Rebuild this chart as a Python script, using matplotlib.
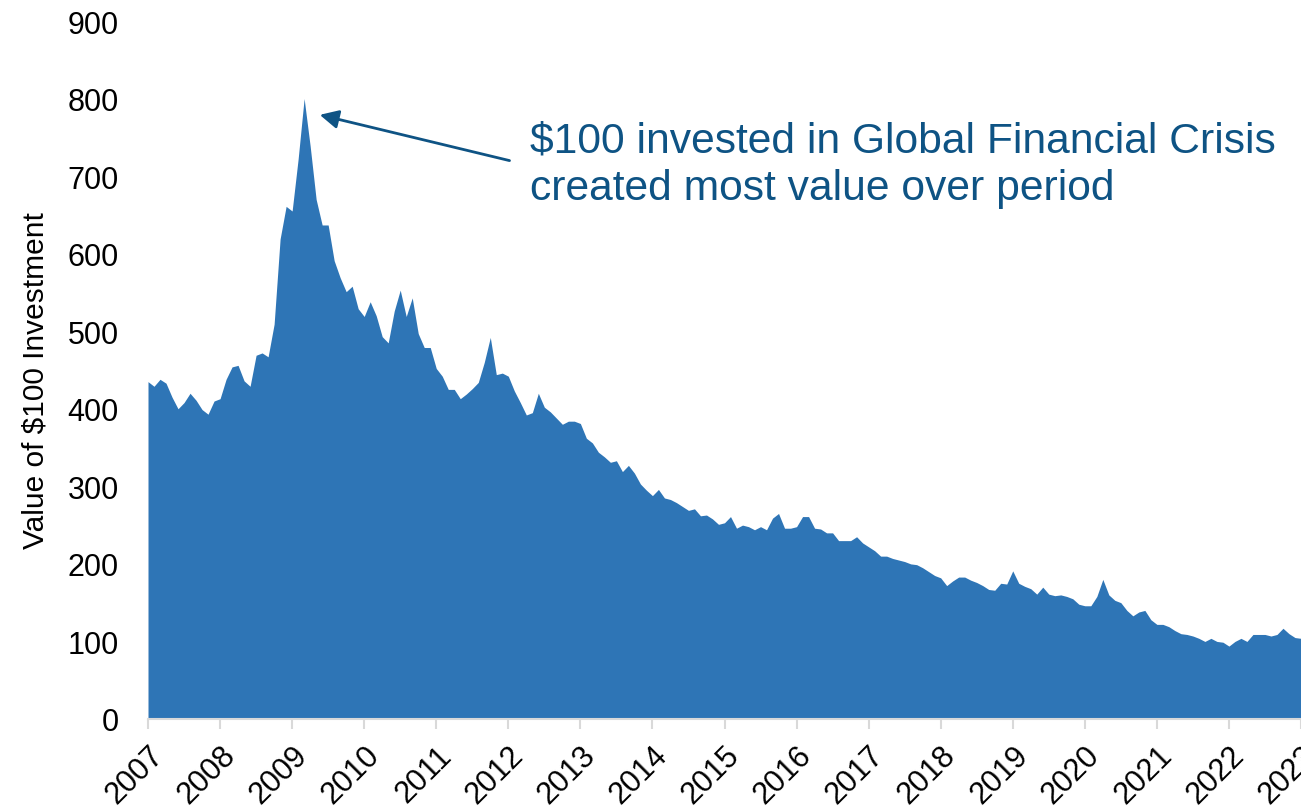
import matplotlib
matplotlib.use("Agg")
import matplotlib.pyplot as plt
import numpy as np

# monthly values, Jan 2007 .. Jan 2023
values = [
    435, 429, 438, 433, 415, 400, 408, 420, 411, 399, 393, 410,   # 2007
    413, 438, 454, 456, 436, 429, 469, 472, 467, 509, 619, 661,   # 2008
    655, 722, 800, 739, 670, 637, 637, 591, 569, 551, 558, 529,   # 2009
    519, 538, 520, 493, 485, 526, 553, 519, 543, 497, 479, 479,   # 2010
    452, 442, 425, 425, 413, 419, 426, 434, 460, 492, 444, 446,   # 2011
    442, 423, 408, 392, 395, 420, 402, 396, 388, 380, 384, 384,   # 2012
    381, 362, 356, 344, 338, 331, 333, 319, 327, 317, 303, 295,   # 2013
    288, 296, 285, 283, 279, 274, 269, 271, 262, 263, 258, 251,   # 2014
    253, 261, 246, 250, 248, 244, 248, 244, 259, 265, 246, 246,   # 2015
    248, 261, 261, 246, 245, 240, 240, 230, 230, 230, 235, 227,   # 2016
    222, 217, 210, 210, 207, 205, 203, 200, 199, 195, 190, 185,   # 2017
    182, 172, 178, 183, 183, 179, 176, 172, 167, 166, 175, 174,   # 2018
    191, 175, 171, 168, 161, 170, 161, 159, 160, 158, 155, 148,   # 2019
    146, 146, 158, 180, 160, 153, 150, 140, 133, 138, 140, 128,   # 2020
    122, 122, 119, 114, 110, 109, 107, 104, 100, 104, 100, 99,    # 2021
    94, 100, 104, 100, 109, 109, 109, 107, 109, 117, 110, 105,    # 2022
    104,                                                          # 2023
]
years = list(range(2007, 2024))
y_ticks = list(range(0, 1000, 100))

note_line1 = "$100 invested in Global Financial Crisis"
note_line2 = "created most value over period"

plt.rcParams['font.family'] = ['Liberation Sans', 'DejaVu Sans']

fill_color = "#2E75B6"
note_color = "#0E5384"
axis_grey = "#D9D9D9"

months = np.arange(len(values))

fig = plt.figure(figsize=(13.01, 8.12), dpi=100)
ax = fig.add_axes([148 / 1301, 92 / 812, 1 - 148 / 1301, (720 - 22) / 812])

ax.fill_between(months, values, 0, color=fill_color, linewidth=0)

ax.set_xlim(0, 192)
ax.set_ylim(0, 900)

ax.set_xticks([12 * k for k in range(len(years))])
ax.set_xticklabels([str(y) for y in years], rotation=45, ha='right', va='top',
                   rotation_mode='anchor', fontsize=22)
ax.set_yticks(y_ticks)
ax.set_yticklabels([str(v) for v in y_ticks], fontsize=22)

ax.tick_params(axis='x', length=7, width=1.5, color=axis_grey, pad=8)
ax.tick_params(axis='y', length=0, pad=21)

for side in ['top', 'right', 'left']:
    ax.spines[side].set_visible(False)
ax.spines['bottom'].set_color(axis_grey)
ax.spines['bottom'].set_linewidth(1.5)

ax.set_ylabel("Value of $100 Investment", fontsize=21.5)
ax.yaxis.set_label_coords(-0.085, 0.487)

# annotation
ax.annotate('', xy=(28.6, 779), xytext=(60.2, 720),
            arrowprops=dict(arrowstyle='-|>', color=note_color, lw=2,
                            mutation_scale=28, shrinkA=0, shrinkB=0))
ax.text(63.6, 731.5, note_line1, fontsize=30.7, color=note_color, va='baseline')
ax.text(63.6, 670.5, note_line2, fontsize=30.7, color=note_color, va='baseline')

fig.savefig("out.png", dpi=100)
